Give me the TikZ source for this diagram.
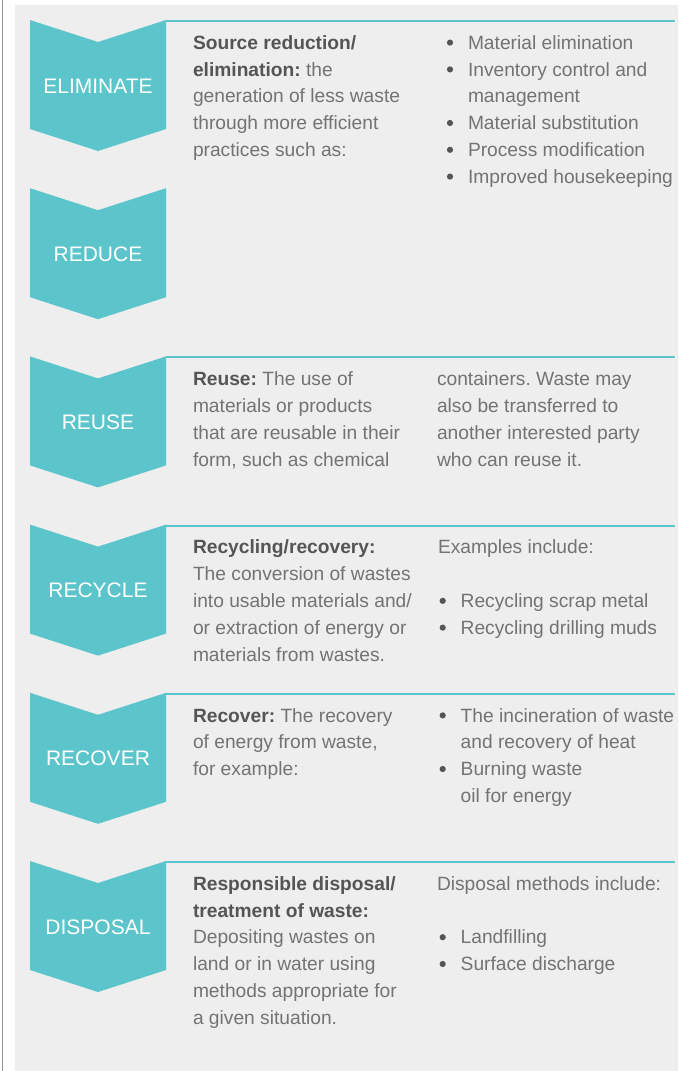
\documentclass[tikz,border=0pt]{standalone}
\usepackage{fontspec}
\setmainfont{Liberation Sans}
\definecolor{teal1}{HTML}{5BC5CB}
\definecolor{panelgray}{HTML}{EEEEEE}
\definecolor{txtgray}{HTML}{737373}
\definecolor{boldgray}{HTML}{555555}
\definecolor{edgegray}{HTML}{9A9A9A}
\newcommand{\bt}[1]{{\bfseries\color{boldgray}#1}}
\frenchspacing
\begin{document}
\begin{tikzpicture}[x=1pt,y=-1pt,
  txt/.style={anchor=base west, inner sep=0pt, outer sep=0pt, font=\fontsize{19.2}{26.8}\selectfont, text=txtgray},
  bul/.style={circle, fill=boldgray, inner sep=0pt, minimum size=6.2pt},
  chev/.style={fill=teal1},
  chevlab/.style={anchor=base, inner sep=0pt, text=white, font=\fontsize{21}{24}\selectfont},
  toprule/.style={draw=teal1, line width=2pt}]
\useasboundingbox (0,0) rectangle (678,1071);
\fill[white] (0,0) rectangle (678,1071);
\fill[panelgray] (15,5) rectangle (678,1071);
\draw[edgegray, line width=1pt] (2.5,0) -- (2.5,1071);

% chevrons
\foreach \t/\lab/\nm in {20/ELIMINATE/celim, 188.2/REDUCE/cred, 356.4/REUSE/creuse, 524.6/RECYCLE/crecy, 692.8/RECOVER/crecov, 861/DISPOSAL/cdisp}{
  \fill[chev] (30,\t) -- (98,\t+22) -- (166,\t) -- (166,\t+109) -- (98,\t+131) -- (30,\t+109) -- cycle;
  \node[chevlab] (\nm) at (98,\t+73) {\lab};
}
% top rules
\foreach \t/\nm in {20/relim, 356.4/rreuse, 524.6/rrecy, 692.8/rrecov, 861/rdisp}{
  \coordinate (\nm a) at (166,\t+1);
  \coordinate (\nm b) at (675,\t+1);
  \draw[toprule] (\nm a) -- (\nm b);
}

% ELIMINATE
\node[txt] (e1) at (193,49.3) {\bt{Source reduction/}};
\node[txt] (e2) at (193,76.1) {\bt{elimination:} the};
\node[txt] (e3) at (193,102.9) {generation of less waste};
\node[txt] (e4) at (193,129.7) {through more efficient};
\node[txt] (e5) at (193,156.5) {practices such as:};
\node[bul] (eb1) at (450,42.6) {};
\node[txt] (f1) at (468,49.3) {Material elimination};
\node[bul] (eb2) at (450,69.4) {};
\node[txt] (f2) at (468,76.1) {Inventory control and};
\node[txt] (f3) at (468,102.9) {management};
\node[bul] (eb4) at (450,123.0) {};
\node[txt] (f4) at (468,129.7) {Material substitution};
\node[bul] (eb5) at (450,149.8) {};
\node[txt] (f5) at (468,156.5) {Process modification};
\node[bul] (eb6) at (450,176.6) {};
\node[txt] (f6) at (468,183.3) {Improved housekeeping};

% REUSE
\node[txt] (u1) at (193,385.7) {\bt{Reuse:} The use of};
\node[txt] (u2) at (193,412.5) {materials or products};
\node[txt] (u3) at (193,439.3) {that are reusable in their};
\node[txt] (u4) at (193,466.1) {form, such as chemical};
\node[txt] (v1) at (437,385.7) {containers. Waste may};
\node[txt] (v2) at (437,412.5) {also be transferred to};
\node[txt] (v3) at (437,439.3) {another interested party};
\node[txt] (v4) at (437,466.1) {who can reuse it.};

% RECYCLE
\node[txt] (r1) at (193,553.9) {\bt{Recycling/recovery:}};
\node[txt] (r2) at (193,580.7) {The conversion of wastes};
\node[txt] (r3) at (193,607.5) {into usable materials and/};
\node[txt] (r4) at (193,634.3) {or extraction of energy or};
\node[txt] (r5) at (193,661.1) {materials from wastes.};
\node[txt] (s1) at (438,553.9) {Examples include:};
\node[bul] (sb4) at (442.7,600.8) {};
\node[txt] (s4) at (460.7,607.5) {Recycling scrap metal};
\node[bul] (sb5) at (442.7,627.6) {};
\node[txt] (s5) at (460.7,634.3) {Recycling drilling muds};

% RECOVER
\node[txt] (o1) at (193,722.1) {\bt{Recover:} The recovery};
\node[txt] (o2) at (193,748.9) {of energy from waste,};
\node[txt] (o3) at (193,775.7) {for example:};
\node[bul] (pb1) at (442.7,715.4) {};
\node[txt] (p1) at (460.7,722.1) {The incineration of waste};
\node[txt] (p2) at (460.7,748.9) {and recovery of heat};
\node[bul] (pb3) at (442.7,769.0) {};
\node[txt] (p3) at (460.7,775.7) {Burning waste};
\node[txt] (p4) at (460.7,802.5) {oil for energy};

% DISPOSAL
\node[txt] (d1) at (193,890.3) {\bt{Responsible disposal/}};
\node[txt] (d2) at (193,917.1) {\bt{treatment of waste:}};
\node[txt] (d3) at (193,943.9) {Depositing wastes on};
\node[txt] (d4) at (193,970.7) {land or in water using};
\node[txt] (d5) at (193,997.5) {methods appropriate for};
\node[txt] (d6) at (193,1024.3) {a given situation.};
\node[txt] (g1) at (437,890.3) {Disposal methods include:};
\node[bul] (gb3) at (442.7,937.2) {};
\node[txt] (g3) at (460.7,943.9) {Landfilling};
\node[bul] (gb4) at (442.7,964.0) {};
\node[txt] (g4) at (460.7,970.7) {Surface discharge};
\end{tikzpicture}
\end{document}
